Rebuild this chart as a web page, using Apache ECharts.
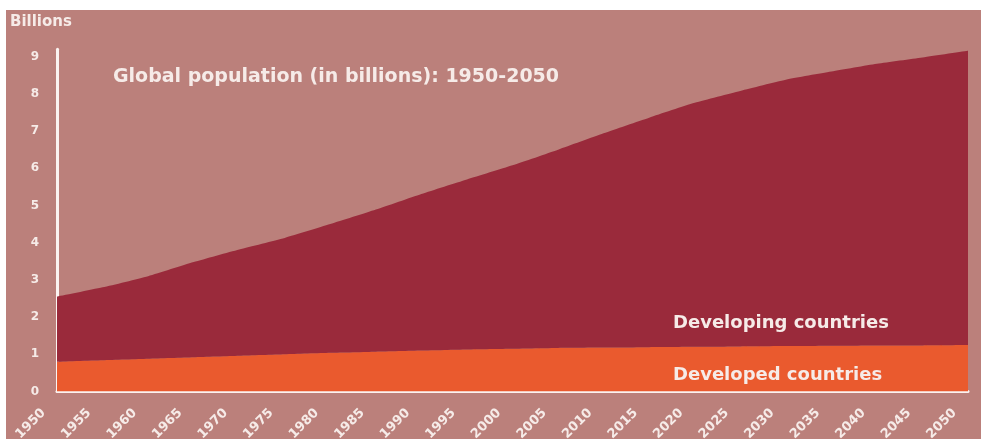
<!DOCTYPE html>
<html>
<head>
<meta charset="utf-8">
<script src="https://cdn.jsdelivr.net/npm/echarts@6/dist/echarts.min.js"></script>
<style>
  html, body { margin: 0; padding: 0; background: #ffffff; }
  #chart { width: 981px; height: 439px; }
</style>
</head>
<body>
<div id="chart"></div>
<script>
// Years on the category axis (every five years)
const years = ['1950','1955','1960','1965','1970','1975','1980','1985','1990','1995','2000',
               '2005','2010','2015','2020','2025','2030','2035','2040','2045','2050'];

// Population of developed countries, billions
const developed = [0.80,0.84,0.88,0.92,0.96,1.00,1.04,1.07,1.10,1.13,1.15,
                   1.17,1.18,1.19,1.20,1.21,1.22,1.23,1.24,1.24,1.25];

// World total population, billions
const worldTotal = [2.55,2.80,3.10,3.48,3.82,4.13,4.50,4.89,5.31,5.70,6.08,
                    6.50,6.94,7.36,7.76,8.08,8.38,8.60,8.81,8.98,9.16];

// Developing countries = world total minus developed (stacked on top)
const developing = worldTotal.map((t, i) => +(t - developed[i]).toFixed(2));

const yTicks = [0,1,2,3,4,5,6,7,8,9];

const BG = '#bb807b';
const TXT = '#f6ebe8';
const FONT = '"DejaVu Sans", "Liberation Sans", Arial, sans-serif';

const chart = echarts.init(document.getElementById('chart'), null, { renderer: 'canvas' });

chart.setOption({
  backgroundColor: '#ffffff',
  animation: false,
  title: {
    text: 'Global population (in billions): 1950-2050',
    left: 108, top: 63,
    textStyle: { color: TXT, fontFamily: FONT, fontWeight: 'bold', fontSize: 19 }
  },
  graphic: [
    { type: 'rect', z: -100, silent: true,
      shape: { x: 6, y: 10, width: 975, height: 429 },
      style: { fill: BG } },
    { type: 'text', left: 10, top: 15, z: 10,
      style: { text: 'Billions', fill: TXT, font: 'bold 15px ' + FONT } },
    { type: 'text', left: 673, top: 314, z: 10,
      style: { text: 'Developing countries', fill: TXT, font: 'bold 18px ' + FONT } },
    { type: 'text', left: 673, top: 366, z: 10,
      style: { text: 'Developed countries', fill: TXT, font: 'bold 18px ' + FONT } }
  ],
  grid: { left: 57, right: 13, top: 49.3, bottom: 47.5, containLabel: false, outerBoundsMode: 'none' },
  xAxis: {
    type: 'category',
    data: years,
    boundaryGap: false,
    axisLine: { show: true, lineStyle: { color: '#fbf3f1', width: 3 } },
    axisTick: { show: false },
    splitLine: { show: false },
    axisLabel: {
      rotate: 45, interval: 0, margin: 6,
      padding: [0, 19, 0, 0],
      color: TXT, fontFamily: FONT, fontWeight: 'bold', fontSize: 13
    }
  },
  yAxis: {
    type: 'value',
    min: 0, max: 9.2, interval: 1,
    axisLine: { show: true, lineStyle: { color: '#fbf3f1', width: 3 } },
    axisTick: { show: false },
    splitLine: { show: false },
    axisLabel: {
      showMaxLabel: false, margin: 18,
      color: TXT, fontFamily: FONT, fontWeight: 'bold', fontSize: 12,
      formatter: v => (yTicks.indexOf(v) >= 0 ? String(v) : '')
    }
  },
  series: [
    {
      name: 'Developed countries', type: 'line', stack: 'pop',
      data: developed, smooth: 0.2, showSymbol: false,
      lineStyle: { width: 0 },
      areaStyle: { color: '#ea5a2e', opacity: 1 },
      z: 2
    },
    {
      name: 'Developing countries', type: 'line', stack: 'pop',
      data: developing, smooth: 0.2, showSymbol: false,
      lineStyle: { width: 0 },
      areaStyle: { color: '#9a2a3b', opacity: 1 },
      z: 2
    }
  ]
});
</script>
</body>
</html>
